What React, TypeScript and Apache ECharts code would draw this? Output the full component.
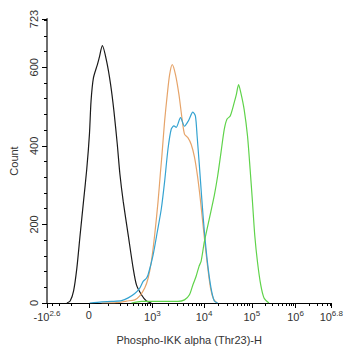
import React, { useEffect, useRef } from "react";
import * as echarts from "echarts";

// x values are in display (logicle) units: 0 = -10^2.6 ... 286 = 10^6.8
const X_MAJOR_POS = [0, 42, 106, 158, 206, 250, 286];
const X_MAJOR_LABELS = ["-10{s|2.6}", "0", "10{s|3}", "10{s|4}", "10{s|5}", "10{s|6}", "10{s|6.8}"];
const Y_LABEL_VALUES = [0, 200, 400, 600, 723];

const blackCurve: [number, number][] = [
  [20, 0], [23.3, 5], [26.7, 30], [30, 88], [33.3, 173], [36.7, 258], [40, 341],
  [42.7, 430], [44.3, 514], [46.7, 573], [50.7, 607], [52.5, 624], [55.7, 655],
  [60, 615], [64, 556], [67.3, 489], [70.7, 404], [73.3, 329], [76.7, 258],
  [81.7, 173], [86.7, 88], [90, 46], [95, 21], [100, 5], [105, 0],
];
const orangeCurve: [number, number][] = [
  [55, 0], [70, 1], [80, 5], [88.3, 8], [93.3, 18], [98.3, 38], [101.7, 63],
  [105, 106], [108.3, 173], [111.7, 258], [114, 329], [115.7, 379], [118.3, 463],
  [121, 531], [123.3, 581], [126, 607], [129.3, 581], [132.7, 531], [135.7, 472],
  [138.3, 430], [141.7, 421], [145, 404], [148.3, 372], [151.5, 321], [154.5, 258],
  [158, 173], [161.5, 94], [164.5, 38], [167.5, 10], [171, 0],
];
const blueCurve: [number, number][] = [
  [43, 0], [55, 3], [65, 4], [75, 6], [81.7, 13], [88.3, 24], [93.3, 38],
  [96.7, 55], [100, 63], [101.7, 72], [106.7, 122], [111, 182], [115, 240],
  [118.3, 309], [121.7, 392], [125, 443], [127.7, 451], [130, 447], [134.3, 472],
  [138.3, 450], [142.3, 464], [146.7, 486], [149.3, 476], [151, 425], [153.3, 349],
  [155.7, 265], [158.3, 182], [161.7, 97], [165, 38], [168.3, 5], [171.7, 0],
];
const greenCurve: [number, number][] = [
  [85, 0], [95, 4], [115, 4], [131.7, 4], [138.3, 8], [143.3, 21], [146.7, 46],
  [150, 68], [153, 94], [155, 106], [158.3, 156], [163.3, 215], [168.3, 274],
  [171.7, 324], [175, 383], [178.3, 442], [181, 468], [184.3, 476], [188.3, 510],
  [190.5, 531], [192.7, 556], [195, 535], [198.3, 493], [201.7, 425], [204.3, 341],
  [206.7, 257], [209, 172], [211.7, 105], [215, 46], [218.3, 13], [223.3, 0],
];

function xMinorTicks(): number[] {
  const out: number[] = [];
  const P = X_MAJOR_POS;
  for (const v of [300, 200, 100]) out.push(P[1] - (P[1] - P[0]) * Math.asinh(v / 95) / Math.asinh(398 / 95));
  for (let v = 100; v <= 900; v += 100) out.push(P[1] + (P[2] - P[1]) * Math.asinh(v / 95) / Math.asinh(1000 / 95));
  for (let i = 2; i <= 4; i++) {
    for (let k = 2; k <= 9; k++) out.push(P[i] + (P[i + 1] - P[i]) * Math.log10(k));
  }
  for (let k = 2; k <= 6; k++) out.push(P[5] + ((P[6] - P[5]) / 0.8) * Math.log10(k));
  return out;
}

function yMinorTicks(): number[] {
  const out: number[] = [];
  for (let v = 40; v < 723; v += 40) if (v % 200 !== 0) out.push(v);
  return out;
}

const FONT = "'Liberation Sans', Arial, sans-serif";

export default function App() {
  const ref = useRef<HTMLDivElement>(null);
  useEffect(() => {
    if (!ref.current) return;
    const chart = echarts.init(ref.current, undefined, { renderer: "svg" });
    const lineSeries = (data: [number, number][], color: string) => ({
      type: "line",
      data,
      showSymbol: false,
      smooth: 0.25,
      lineStyle: { color, width: 1.2 },
      xAxisIndex: 0,
      yAxisIndex: 0,
    });
    chart.setOption({
      animation: false,
      backgroundColor: "#ffffff",
      grid: { left: 45, right: 14, top: 19, bottom: 45 },
      xAxis: [
        {
          type: "value",
          min: 0,
          max: 286,
          position: "bottom",
          name: "Phospho-IKK alpha (Thr23)-H",
          nameLocation: "middle",
          nameGap: 31,
          nameTextStyle: { fontSize: 11, color: "#333", fontFamily: FONT },
          axisLine: { lineStyle: { color: "#000", width: 1 } },
          axisTick: { customValues: X_MAJOR_POS, length: 5, lineStyle: { color: "#000" } },
          axisLabel: {
            customValues: X_MAJOR_POS,
            fontSize: 11,
            color: "#333",
            fontFamily: FONT,
            margin: 6,
            formatter: (v: number) => {
              const i = X_MAJOR_POS.indexOf(v);
              return i >= 0 ? X_MAJOR_LABELS[i] : "";
            },
            rich: { s: { fontSize: 8, color: "#333", fontFamily: FONT, padding: [0, 0, 7, 0] } },
          },
          splitLine: { show: false },
        },
        {
          type: "value",
          min: 0,
          max: 286,
          position: "bottom",
          axisLine: { show: false },
          axisTick: { customValues: xMinorTicks(), length: 3, lineStyle: { color: "#000" } },
          axisLabel: { show: false },
          splitLine: { show: false },
        },
        {
          type: "value",
          min: 0,
          max: 286,
          position: "top",
          axisLine: { lineStyle: { color: "#000", width: 1 } },
          axisTick: { show: false },
          axisLabel: { show: false },
          splitLine: { show: false },
        },
      ],
      yAxis: [
        {
          type: "value",
          min: 0,
          max: 723,
          position: "left",
          name: "Count",
          nameLocation: "middle",
          nameGap: 28,
          nameTextStyle: { fontSize: 11, color: "#333", fontFamily: FONT },
          axisLine: { show: true, lineStyle: { color: "#000", width: 1 } },
          axisTick: { show: true, customValues: Y_LABEL_VALUES, length: 5, lineStyle: { color: "#000" } },
          axisLabel: {
            customValues: Y_LABEL_VALUES,
            rotate: 90,
            fontSize: 11,
            color: "#333",
            fontFamily: FONT,
            margin: 8,
          },
          splitLine: { show: false },
        },
        {
          type: "value",
          min: 0,
          max: 723,
          position: "left",
          axisLine: { show: false },
          axisTick: { show: true, customValues: yMinorTicks(), length: 3, lineStyle: { color: "#000" } },
          axisLabel: { show: false },
          splitLine: { show: false },
        },
        {
          type: "value",
          min: 0,
          max: 723,
          position: "right",
          axisLine: { show: true, lineStyle: { color: "#6e6e6e", width: 2 } },
          axisTick: { show: false },
          axisLabel: { show: false },
          splitLine: { show: false },
        },
      ],
      series: [
        lineSeries(blackCurve, "#1a1a1a"),
        lineSeries(orangeCurve, "#e6a46a"),
        lineSeries(blueCurve, "#35a3d1"),
        lineSeries(greenCurve, "#5fd34a"),
      ],
    });
    return () => chart.dispose();
  }, []);
  return (
    <div
      ref={ref}
      style={{ position: "absolute", left: 0, top: 0, width: 346, height: 350 }}
    />
  );
}
